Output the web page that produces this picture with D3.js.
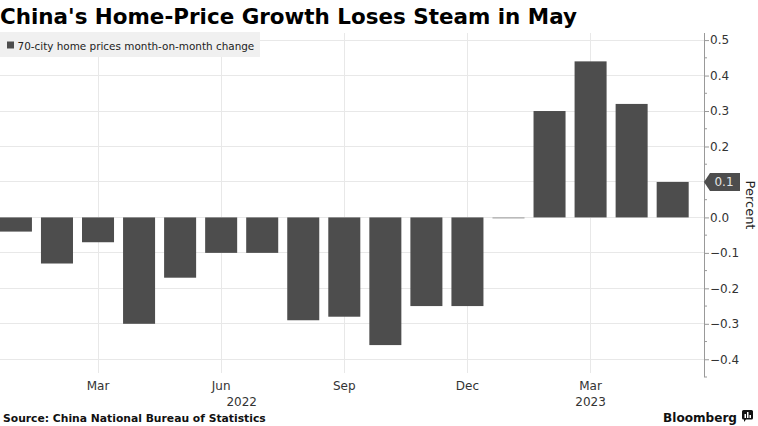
<!DOCTYPE html>
<html>
<head>
<meta charset="utf-8">
<script src="https://cdn.jsdelivr.net/npm/d3@7"></script>
<style>
  html, body { margin: 0; padding: 0; background: #fff; }
  svg { display: block; }
</style>
</head>
<body>
<svg id="chart" width="758" height="426"></svg>
<script>
// ---- Data ----
const months = ["2022-01","2022-02","2022-03","2022-04","2022-05","2022-06","2022-07","2022-08","2022-09","2022-10","2022-11","2022-12","2023-01","2023-02","2023-03","2023-04","2023-05"];
const values = [-0.04,-0.13,-0.07,-0.30,-0.17,-0.10,-0.10,-0.29,-0.28,-0.36,-0.25,-0.25,0.0,0.30,0.44,0.32,0.10];
const monthTickLabels = ["Mar","Jun","Sep","Dec","Mar"];
const monthTickKeys = ["2022-03","2022-06","2022-09","2022-12","2023-03"];
const years = ["2022","2023"];
const yTicks = [0.5,0.4,0.3,0.2,0.1,0.0,-0.1,-0.2,-0.3,-0.4];
const title = "China's Home-Price Growth Loses Steam in May";
const legendLabel = "70-city home prices month-on-month change";
const sourceText = "Source: China National Bureau of Statistics";
const yAxisTitle = "Percent";
const lastValueLabel = "0.1";

// ---- Layout ----
const W = 758, H = 426;
const plotLeft = 0, plotRight = 704, plotTop = 33, plotBottom = 377;
const svg = d3.select("#chart");
const font = "'DejaVu Sans', Verdana, sans-serif";

const x = d3.scaleBand().domain(months).range([-4.6, 693.2]).paddingInner(0.22).paddingOuter(0.11);
const y = d3.scaleLinear().domain([-0.45, 0.52]).range([plotBottom, plotTop]);
const xc = k => x(k) + x.bandwidth() / 2;

function fit(sel, width) {
  const n = sel.node();
  const fs = parseFloat(sel.attr("font-size"));
  const w = n.getComputedTextLength();
  if (w > 0) sel.attr("font-size", (fs * width / w).toFixed(2));
}

// Title
const t = svg.append("text").attr("x", 0).attr("y", 24)
  .attr("font-family", font).attr("font-weight", "bold").attr("font-size", 21)
  .attr("fill", "#000").text(title);
fit(t, 577);

// Gridlines horizontal
svg.append("g").selectAll("line").data(yTicks).join("line")
  .attr("x1", plotLeft).attr("x2", plotRight)
  .attr("y1", d => y(d)).attr("y2", d => y(d))
  .attr("stroke", "#e8e8e8").attr("stroke-width", 1).attr("shape-rendering", "crispEdges");

// Gridlines vertical
svg.append("g").selectAll("line").data(monthTickKeys).join("line")
  .attr("x1", d => xc(d)).attr("x2", d => xc(d))
  .attr("y1", plotTop).attr("y2", 373)
  .attr("stroke", "#e8e8e8").attr("stroke-width", 1).attr("shape-rendering", "crispEdges");

// Legend
svg.append("rect").attr("x", 0).attr("y", 32).attr("width", 260).attr("height", 25).attr("fill", "#f0f0f0");
svg.append("rect").attr("x", 7).attr("y", 41.5).attr("width", 7).attr("height", 7).attr("fill", "#4d4d4d");
const lt = svg.append("text").attr("x", 17.5).attr("y", 49.5)
  .attr("font-family", font).attr("font-size", 11).attr("fill", "#222").text(legendLabel);
fit(lt, 237);

// Bars
svg.append("g").selectAll("rect").data(months).join("rect")
  .attr("x", d => Math.max(0, x(d)))
  .attr("width", d => x(d) + x.bandwidth() - Math.max(0, x(d)))
  .attr("y", (d, i) => Math.min(y(values[i]), y(0)))
  .attr("height", (d, i) => Math.max(1, Math.abs(y(values[i]) - y(0))))
  .attr("fill", (d, i) => values[i] === 0 ? "#999" : "#4d4d4d");

// Right axis
const yAxis = d3.axisRight(y).tickValues(yTicks).tickSize(5).tickPadding(1)
  .tickFormat(d3.format(".1f"));
const ga = svg.append("g").attr("transform", `translate(${plotRight},0)`).call(yAxis);
ga.select(".domain").attr("stroke", "#999").attr("d", `M0.5,${plotTop}V${plotBottom}`);
ga.selectAll(".tick line").attr("stroke", "#999");
ga.selectAll(".tick text").attr("font-family", font).attr("font-size", 12).attr("fill", "#333");
// minor ticks
const minor = d3.range(-0.45, 0.5, 0.1).map(v => +v.toFixed(2));
svg.append("g").selectAll("line").data(minor).join("line")
  .attr("x1", plotRight).attr("x2", plotRight + 3)
  .attr("y1", d => y(d)).attr("y2", d => y(d))
  .attr("stroke", "#999");

// Hide the 0.1 tick label (covered by callout)
ga.selectAll(".tick").filter(d => Math.abs(d - 0.1) < 1e-9).select("text").attr("opacity", 0);

// Last value callout
const lastY = y(values[values.length - 1]);
const cx0 = plotRight, ch = 18, cw = 36;
svg.append("path")
  .attr("d", `M${cx0},${lastY} L${cx0 + 6},${lastY - ch / 2} H${cx0 + cw} V${lastY + ch / 2} H${cx0 + 6} Z`)
  .attr("fill", "#4d4d4d");
svg.append("text").attr("x", cx0 + 20).attr("y", lastY + 4.5).attr("text-anchor", "middle")
  .attr("font-family", font).attr("font-size", 12).attr("fill", "#e6e6e6").text(lastValueLabel);

// Y axis title
svg.append("text").attr("transform", `translate(746,205) rotate(90)`)
  .attr("text-anchor", "middle").attr("font-family", font).attr("font-size", 13).attr("fill", "#222")
  .text(yAxisTitle);

// X labels
svg.append("g").selectAll("text").data(monthTickKeys).join("text")
  .attr("x", d => xc(d)).attr("y", 390).attr("text-anchor", "middle")
  .attr("font-family", font).attr("font-size", 12).attr("fill", "#333")
  .text((d, i) => monthTickLabels[i]);
svg.append("g").selectAll("text").data(years).join("text")
  .attr("x", yr => d3.mean(months.filter(m => m.startsWith(yr)), xc))
  .attr("y", 406).attr("text-anchor", "middle")
  .attr("font-family", font).attr("font-size", 12).attr("fill", "#333")
  .text(d => d);

// Source
const st = svg.append("text").attr("x", 3).attr("y", 422)
  .attr("font-family", font).attr("font-weight", "bold").attr("font-size", 11).attr("fill", "#111").text(sourceText);
fit(st, 263);

// Bloomberg logo
const bt = svg.append("text").attr("x", 737).attr("y", 422).attr("text-anchor", "end")
  .attr("font-family", font).attr("font-weight", "bold").attr("font-size", 13).attr("fill", "#111").text("Bloomberg");
fit(bt, 74);
const lg = svg.append("g").attr("transform", "translate(742,410)");
lg.append("path").attr("d", "M0,1.5 Q0,0 1.5,0 H9.5 Q11,0 11,1.5 V8 Q11,9.5 9.5,9.5 H4 L2,12 V9.5 H1.5 Q0,9.5 0,8 Z").attr("fill", "#111");
lg.append("rect").attr("x", 2.5).attr("y", 4).attr("width", 1.5).attr("height", 4).attr("fill", "#fff");
lg.append("rect").attr("x", 5).attr("y", 2).attr("width", 1.5).attr("height", 6).attr("fill", "#fff");
lg.append("rect").attr("x", 7.5).attr("y", 5).attr("width", 1.5).attr("height", 3).attr("fill", "#fff");
</script>
</body>
</html>
